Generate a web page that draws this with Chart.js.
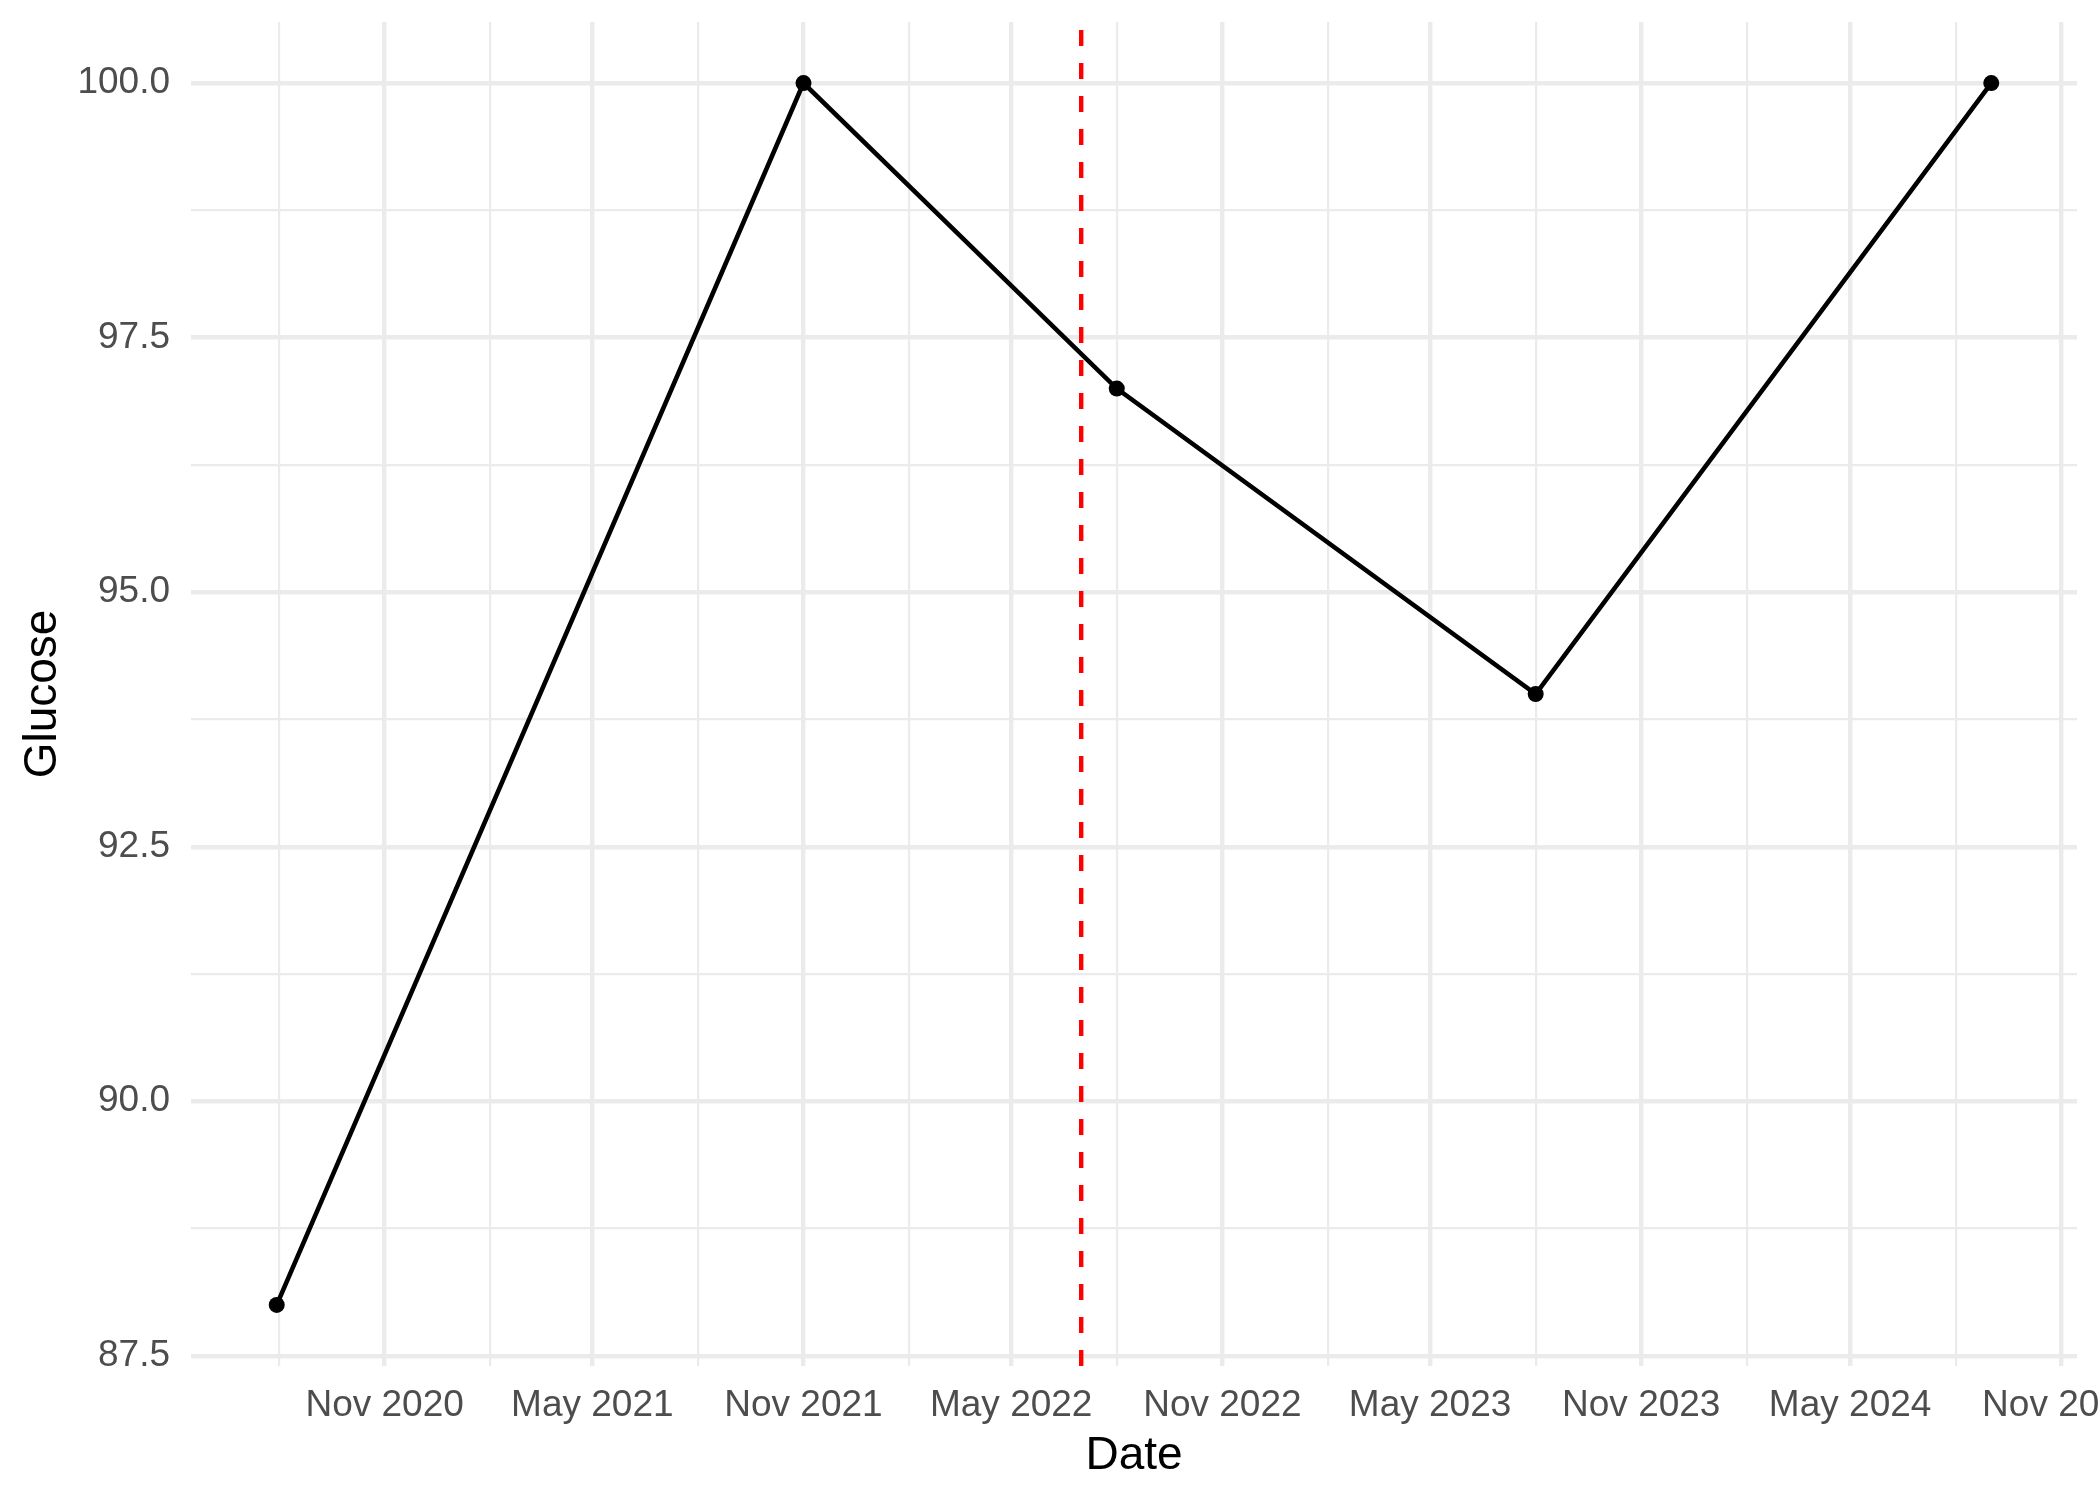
<!DOCTYPE html>
<html>
<head>
<meta charset="utf-8">
<title>Glucose</title>
<script src="https://cdn.jsdelivr.net/npm/chart.js@4.4.1/dist/chart.umd.min.js"></script>
<style>
    html, body { margin: 0; padding: 0; background: #ffffff; }
    #wrap { width: 2100px; height: 1500px; }
    canvas { display: block; }
</style>
</head>
<body>
<div id="wrap"><canvas id="chart" width="2100" height="1500"></canvas></div>

<script>
    // data
    const dates = ['2020-07-30', '2021-11-01', '2022-08-01', '2023-08-01', '2024-09-01']
    const glucose = [88, 100, 97, 94, 100]
    const markerDate = '2022-07-01'

    // axis ticks
    const xMajorTicks = ['2020-11-01', '2021-05-01', '2021-11-01', '2022-05-01', '2022-11-01',
                         '2023-05-01', '2023-11-01', '2024-05-01', '2024-11-01']
    const xMajorLabels = ['Nov 2020', 'May 2021', 'Nov 2021', 'May 2022', 'Nov 2022',
                          'May 2023', 'Nov 2023', 'May 2024', 'Nov 2024']
    const xMinorTicks = ['2020-08-01', '2021-02-01', '2021-08-01', '2022-02-01', '2022-08-01',
                         '2023-02-01', '2023-08-01', '2024-02-01', '2024-08-01']
    const yMajorTicks = [87.5, 90, 92.5, 95, 97.5, 100]
    const yMinorTicks = [88.75, 91.25, 93.75, 96.25, 98.75]

    const FONT = '"Liberation Sans", Arial, sans-serif'
    const toMs = s => Date.parse(s + 'T00:00:00Z')

    // ggplot style 5% expansion around the data
    const xs = dates.map(toMs)
    const xSpan = xs[xs.length - 1] - xs[0]
    const xMin = xs[0] - 0.05 * xSpan
    const xMax = xs[xs.length - 1] + 0.05 * xSpan
    const ySpan = Math.max(...glucose) - Math.min(...glucose)
    const yMin = Math.min(...glucose) - 0.05 * ySpan
    const yMax = Math.max(...glucose) + 0.05 * ySpan

    const xTicks = xMajorTicks.map((d, i) => ({ value: toMs(d), minor: false, text: xMajorLabels[i] }))
        .concat(xMinorTicks.map(d => ({ value: toMs(d), minor: true, text: '' })))
        .sort((a, b) => a.value - b.value)
    const yTicks = yMajorTicks.map(v => ({ value: v, minor: false, text: v.toFixed(1) }))
        .concat(yMinorTicks.map(v => ({ value: v, minor: true, text: '' })))
        .sort((a, b) => a.value - b.value)

    const gridWidth = c => (c.tick && c.tick.minor) ? 2.2 : 4.4

    const config = {
        type: 'line',
        data: {
            datasets: [{
                // vertical reference line
                data: [{ x: toMs(markerDate), y: yMin }, { x: toMs(markerDate), y: yMax }],
                borderColor: '#FF0000',
                borderWidth: 4.4,
                borderDash: [16, 17],
                pointRadius: 0,
                tension: 0
            }, {
                data: xs.map((x, i) => ({ x: x, y: glucose[i] })),
                borderColor: '#000000',
                borderWidth: 4.6,
                pointRadius: 8,
                pointBackgroundColor: '#000000',
                pointBorderWidth: 0,
                tension: 0
            }]
        },
        options: {
            responsive: false,
            devicePixelRatio: 1,
            animation: false,
            events: [],
            layout: { padding: { top: 22, right: 23, left: 0, bottom: 0 } },
            plugins: {
                legend: { display: false },
                tooltip: { enabled: false }
            },
            scales: {
                x: {
                    type: 'linear',
                    min: xMin,
                    max: xMax,
                    afterBuildTicks: s => { s.ticks = xTicks.map(t => Object.assign({}, t)) },
                    afterFit: s => { s.height = 134; s.paddingLeft = 0; s.paddingRight = 0 },
                    grid: { color: '#EBEBEB', lineWidth: gridWidth, drawTicks: false },
                    border: { display: false },
                    ticks: {
                        autoSkip: false,
                        maxRotation: 0,
                        minRotation: 0,
                        padding: 18,
                        color: '#4D4D4D',
                        font: { family: FONT, size: 37 },
                        callback: (v, i, ticks) => ticks[i].text || ''
                    },
                    title: {
                        display: true,
                        text: 'Date',
                        color: '#000000',
                        font: { family: FONT, size: 46, lineHeight: 1.2 },
                        padding: { top: 0, bottom: 16 }
                    }
                },
                y: {
                    type: 'linear',
                    min: yMin,
                    max: yMax,
                    afterBuildTicks: s => { s.ticks = yTicks.map(t => Object.assign({}, t)) },
                    afterFit: s => { s.width = 191; s.paddingTop = 0; s.paddingBottom = 0 },
                    grid: { color: '#EBEBEB', lineWidth: gridWidth, drawTicks: false },
                    border: { display: false },
                    ticks: {
                        autoSkip: false,
                        padding: 21,
                        color: '#4D4D4D',
                        font: { family: FONT, size: 37 },
                        callback: (v, i, ticks) => ticks[i].text || ''
                    },
                    title: {
                        display: true,
                        text: 'Glucose',
                        color: '#000000',
                        font: { family: FONT, size: 46, lineHeight: 1.2 },
                        padding: { top: 16, bottom: 0 }
                    }
                }
            }
        }
    }

    const glucoseChart = new Chart(document.getElementById('chart'), config)
</script>
</body>
</html>
